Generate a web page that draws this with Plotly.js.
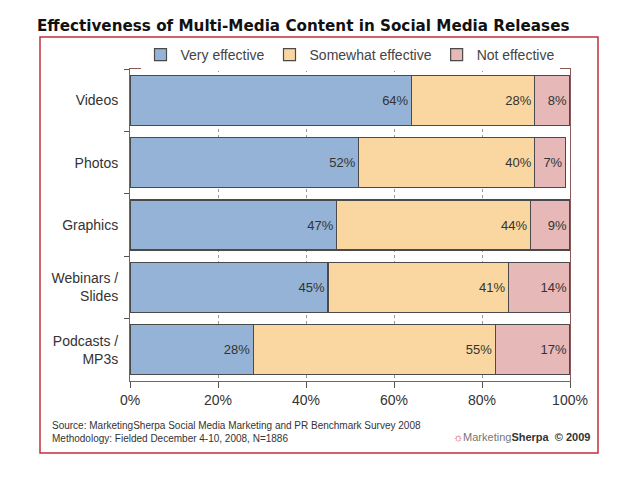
<!DOCTYPE html>
<html><head><meta charset="utf-8">
<script src="https://cdn.plot.ly/plotly-3.0.1.min.js"></script>
<style>body{margin:0;background:#fff}#c{width:640px;height:480px}</style>
</head><body><div id="c"></div>
<script>
const categories = ["Videos", "Photos", "Graphics", "Webinars /<br>Slides", "Podcasts /<br>MP3s"];
const veryEffective = [64, 52, 47, 45, 28];
const somewhatEffective = [28, 40, 44, 41, 55];
const notEffective = [8, 7, 9, 14, 17];
const seriesNames = ["Very effective", "Somewhat effective", "Not effective"];
const seriesColors = ["#95B3D7", "#FAD7A0", "#E6B9B8"];
const xTickVals = [0, 20, 40, 60, 80, 100];
const xTickText = ["0%", "20%", "40%", "60%", "80%", "100%"];

const series = [veryEffective, somewhatEffective, notEffective];
const traces = series.map((vals, i) => ({
  type: 'bar', orientation: 'h',
  y: categories, x: vals, name: seriesNames[i],
  marker: {color: seriesColors[i], line: {color: '#4a4a4a', width: 1.2}},
  text: vals.map(v => v + '%'), textposition: 'inside', insidetextanchor: 'end',
  textfont: {family: 'Liberation Sans, Arial', size: 13, color: '#333'},
  hoverinfo: 'none', cliponaxis: false
}));

const layout = {
  width: 640, height: 480,
  margin: {l: 130, r: 70, t: 69, b: 99},
  paper_bgcolor: '#fff', plot_bgcolor: '#fff',
  barmode: 'stack', bargap: 0.2,
  font: {family: 'Liberation Sans, Arial', color: '#333'},
  title: {text: 'Effectiveness of Multi-Media Content in Social Media Releases',
    font: {family: 'DejaVu Sans', size: 15.2, color: '#111', weight: 'bold'},
    x: 37/640, xanchor: 'left', xref: 'container', y: 1 - 26/480, yanchor: 'middle', yref: 'container'},
  xaxis: {range: [0, 100], tickvals: xTickVals, ticktext: xTickText,
    ticks: 'outside', ticklen: 6, tickcolor: '#555',
    showgrid: true, gridcolor: '#9a9a9a', griddash: 'dot', gridwidth: 1,
    showline: true, linecolor: '#8a5a5a', linewidth: 1, mirror: true,
    tickfont: {size: 14, color: '#333'}, zeroline: false, fixedrange: true},
  yaxis: {autorange: 'reversed', type: 'category', tickson: 'boundaries',
    ticks: 'outside', ticklen: 5, tickcolor: '#555',
    showline: true, linecolor: '#8a5a5a', linewidth: 1, mirror: true,
    tickfont: {size: 14, color: '#333'}, ticklabelstandoff: 8, fixedrange: true},
  legend: {orientation: 'h', x: 0.5, xanchor: 'center', y: (381-55)/312, yanchor: 'middle',
    font: {size: 14, color: '#444'}, traceorder: 'normal', itemwidth: 20},
  showlegend: true,
  shapes: [{type: 'rect', xref: 'paper', yref: 'paper',
    x0: (40-130)/440, x1: (598-130)/440, y0: (381-453)/312, y1: (381-37)/312,
    line: {color: '#C0303A', width: 1.5}, fillcolor: 'rgba(0,0,0,0)', layer: 'below'}],
  annotations: [
    {text: 'Source: MarketingSherpa Social Media Marketing and PR Benchmark Survey 2008<br>Methodology: Fielded December 4-10, 2008, N=1886',
     xref: 'paper', yref: 'paper', x: (50-130)/440, y: (381-432)/312, xanchor: 'left', yanchor: 'middle',
     align: 'left', showarrow: false, font: {size: 10, color: '#333'}},
    {text: '<span style="color:#d04040">☼</span><span style="color:#777">Marketing</span><b>Sherpa</b>  <b>© 2009</b>',
     xref: 'paper', yref: 'paper', x: (592-130)/440, y: (381-437)/312, xanchor: 'right', yanchor: 'middle',
     showarrow: false, font: {size: 11, color: '#333'}}
  ]
};
Plotly.newPlot('c', traces, layout, {displayModeBar: false, staticPlot: true});
</script></body></html>
